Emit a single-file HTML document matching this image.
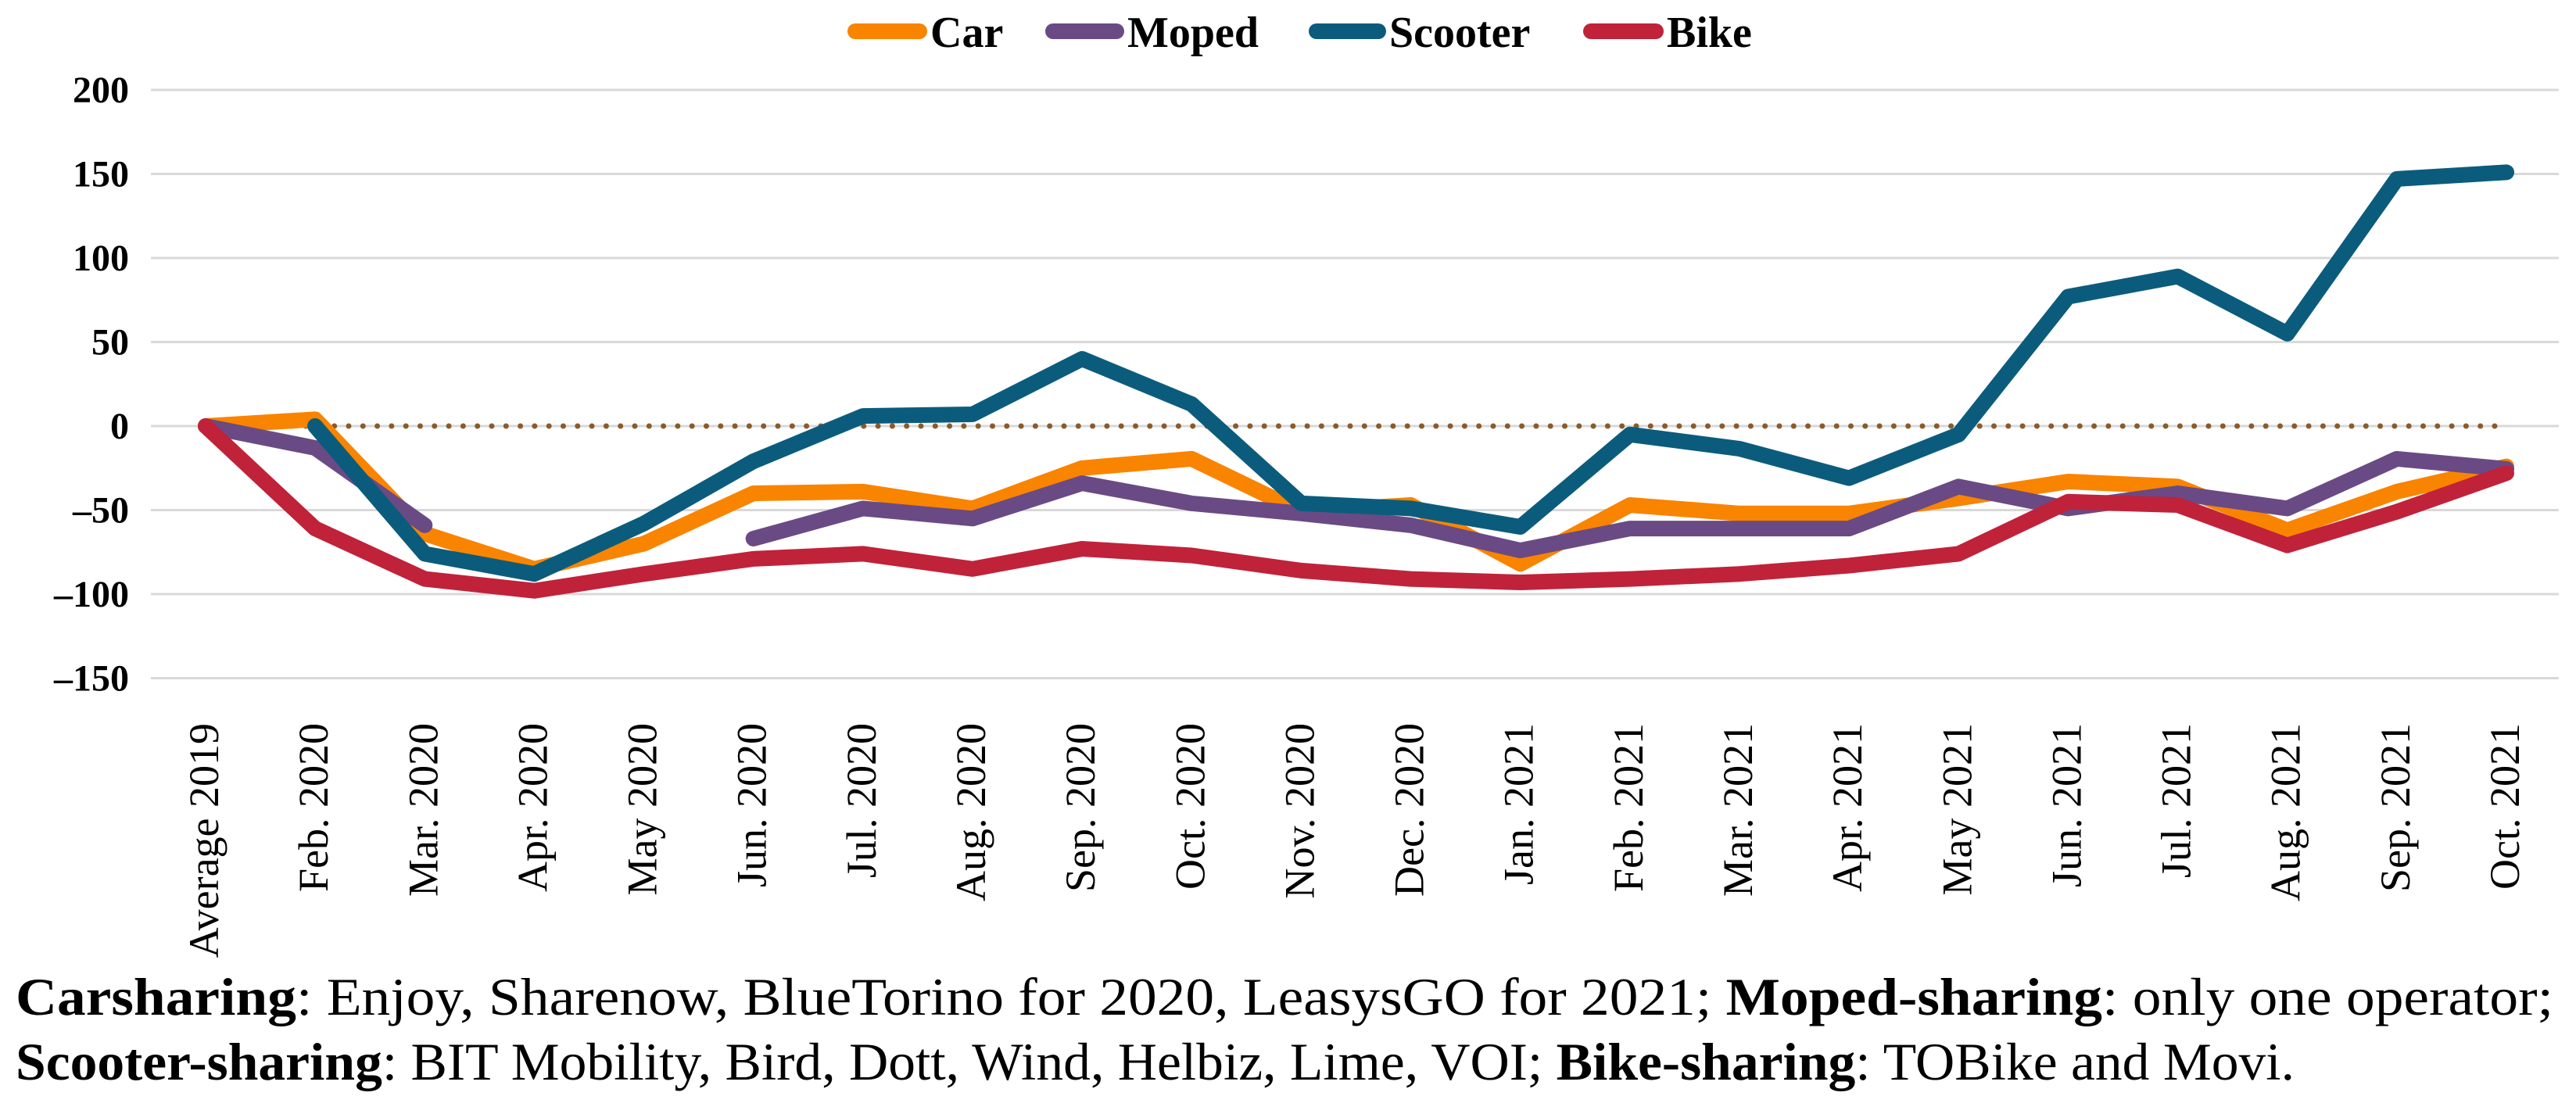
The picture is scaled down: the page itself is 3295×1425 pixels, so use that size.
<!DOCTYPE html>
<html><head><meta charset="utf-8"><style>
html,body{margin:0;padding:0;background:#fff;}
svg{display:block;}
</style></head><body>
<svg id="chart" width="3295" height="1425" viewBox="0 0 3295 1425" xmlns="http://www.w3.org/2000/svg">
<g id="grid"></g>
<g id="ylabels"></g>
<g id="xlabels"></g>
<g id="series"></g>
<g font-family="'Liberation Serif', serif" font-weight="bold" font-size="56">
  <g><line x1="1094" y1="40" x2="1176" y2="40" stroke="#f98400" stroke-width="20" stroke-linecap="round"/><text x="1190" y="60">Car</text></g>
  <g><line x1="1347" y1="40" x2="1428" y2="40" stroke="#6a4a84" stroke-width="20" stroke-linecap="round"/><text x="1442" y="60">Moped</text></g>
  <g><line x1="1684" y1="40" x2="1763" y2="40" stroke="#0b5c7c" stroke-width="20" stroke-linecap="round"/><text x="1777" y="60">Scooter</text></g>
  <g><line x1="2035" y1="40" x2="2118" y2="40" stroke="#c0223a" stroke-width="20" stroke-linecap="round"/><text x="2132" y="60">Bike</text></g>
</g>
<g font-family="'Liberation Serif', serif" font-size="68" fill="#000">
  <text x="20" y="1298" textLength="3246" lengthAdjust="spacingAndGlyphs"><tspan font-weight="bold">Carsharing</tspan>: Enjoy, Sharenow, BlueTorino for 2020, LeasysGO for 2021; <tspan font-weight="bold">Moped-sharing</tspan>: only one operator;</text>
  <text x="20" y="1381" textLength="2915" lengthAdjust="spacingAndGlyphs"><tspan font-weight="bold">Scooter-sharing</tspan>: BIT Mobility, Bird, Dott, Wind, Helbiz, Lime, VOI; <tspan font-weight="bold">Bike-sharing</tspan>: TOBike and Movi.</text>
</g>
</svg>
<script>
const categories = ["Average 2019","Feb. 2020","Mar. 2020","Apr. 2020","May 2020","Jun. 2020","Jul. 2020","Aug. 2020","Sep. 2020","Oct. 2020","Nov. 2020","Dec. 2020","Jan. 2021","Feb. 2021","Mar. 2021","Apr. 2021","May 2021","Jun. 2021","Jul. 2021","Aug. 2021","Sep. 2021","Oct. 2021"];
const carValues = [0,4,-64,-85,-70,-40,-39,-49,-25,-19.5,-51,-47,-82,-47,-52,-52,-43,-33,-36,-62,-39,-24];
const mopedValues = [0,-13,-59,null,null,-67,-49,-55,-34,-46,-52,-59,-74,-61,-61,-61,-36,-49,-40,-49,-19.5,-25.5];
const scooterValues = [null,0,-76,-88,-58,-21,6,7,40,13,-46,-49,-60,-5,-13.5,-31,-5,77,89,55,147,151];
const bikeValues = [0,-61,-91,-98,-88,-79,-76,-85,-73,-77,-86,-91,-93,-91,-88,-83,-76,-45,-47,-71,-51,-28];
const yTicks = [200,150,100,50,0,-50,-100,-150];
const yTickLabels = ["200","150","100","50","0","\u201350","\u2013100","\u2013150"];

const NS = "http://www.w3.org/2000/svg";
const X0 = 263, X1 = 3206, Y0 = 545, PX_PER_UNIT = 2.15;
function xPos(i){ return X0 + i * (X1 - X0) / (categories.length - 1); }
function yPos(v){ return Y0 - v * PX_PER_UNIT; }
function mk(tag, attrs){ const e = document.createElementNS(NS, tag); for (const k in attrs) e.setAttribute(k, attrs[k]); return e; }

const grid = document.getElementById('grid');
const ylabels = document.getElementById('ylabels');
yTicks.forEach((t, i) => {
  const ln = mk('line', {x1:193, x2:3273, y1:yPos(t), y2:yPos(t), stroke:'#d9d9d9', 'stroke-width':3});
  
  
  grid.appendChild(ln);
  const tx = mk('text', {x:165, y:yPos(t)+16, 'text-anchor':'end', 'font-family':"'Liberation Serif', serif", 'font-weight':'bold', 'font-size':48});
  tx.textContent = yTickLabels[i];
  
  
  ylabels.appendChild(tx);
});

const zero = mk('line', {x1:X0, x2:X1, y1:yPos(0), y2:yPos(0), stroke:'#8b5a2b', 'stroke-width':7, 'stroke-linecap':'round', 'stroke-dasharray':'0 18.3'});


grid.appendChild(zero);

const xlabels = document.getElementById('xlabels');
categories.forEach((c, i) => {
  const x = xPos(i) + 16, y = 925;
  const tx = mk('text', {x:x, y:y, transform:`rotate(-90 ${x} ${y})`, 'text-anchor':'end', 'font-family':"'Liberation Serif', serif", 'font-size':54});
  tx.textContent = c;
  
  
  xlabels.appendChild(tx);
});

const seriesG = document.getElementById('series');
function drawSeries(vals, color, name){
  let segs = [], cur = [];
  vals.forEach((v, i) => {
    if (v === null) { if (cur.length) segs.push(cur); cur = []; }
    else cur.push(xPos(i).toFixed(1) + ',' + yPos(v).toFixed(1));
  });
  if (cur.length) segs.push(cur);
  segs.forEach(s => {
    const p = mk('polyline', {points:s.join(' '), fill:'none', stroke:color, 'stroke-width':20, 'stroke-linejoin':'round', 'stroke-linecap':'round'});
    
    
    seriesG.appendChild(p);
  });
}
drawSeries(carValues, '#f98400', 'car-line');
drawSeries(mopedValues, '#6a4a84', 'moped-line');
drawSeries(scooterValues, '#0b5c7c', 'scooter-line');
drawSeries(bikeValues, '#c0223a', 'bike-line');
</script>
</body></html>
